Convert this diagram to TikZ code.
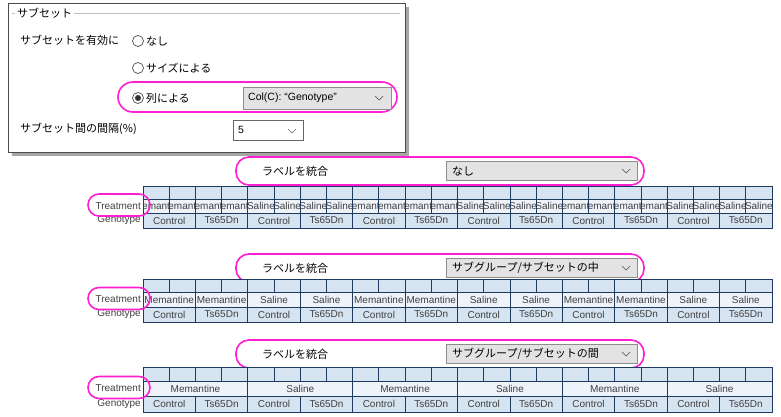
\documentclass[tikz,border=0pt]{standalone}
\usepackage{fontspec}
\setmainfont{Liberation Sans}
\newfontfamily\jp{Noto Sans CJK JP}
\usepackage{xcolor}
\usetikzlibrary{shapes,positioning}
\definecolor{cellblue}{HTML}{D6E3F0}
\definecolor{celllight}{HTML}{EEF3F9}
\definecolor{cellline}{HTML}{1F3A5F}
\definecolor{hilite}{HTML}{FF1FD0}
\definecolor{combogray}{HTML}{E3E3E3}
\tikzset{
  cell/.style={draw=cellline,line width=0.8pt},
  celltext/.style={font=\fontsize{10}{11}\selectfont,text=black!75,inner sep=0pt},
  jtext/.style={font=\jp\fontsize{11}{12}\selectfont,anchor=west,inner sep=0pt},
  combo/.style={draw=black!45,fill=combogray,line width=0.6pt},
  ring/.style={draw=hilite,line width=1.6pt,rounded corners=13pt},
  smallring/.style={draw=hilite,line width=1.6pt,rounded corners=11pt},
  radio/.style={draw=black!70,circle,minimum size=11pt,inner sep=0pt,line width=0.7pt}
}
% one row of cells: y top, height, number of cells, fill, labels
\newcommand{\cellrow}[5]{%
  \pgfmathsetmacro{\cw}{629/#3}
  \foreach \lab [count=\k from 0] in {#5} {
    \begin{scope}
      \clip (143+\k*\cw,#1) rectangle +(\cw,#2);
      \fill[#4] (143+\k*\cw,#1) rectangle +(\cw,#2);
      \node[celltext] at (143+\k*\cw+\cw/2,#1+#2/2) {\lab};
    \end{scope}
    \draw[cell] (143+\k*\cw,#1) rectangle +(\cw,#2);
  }}
\newcommand{\mergebar}[2]{%
  \draw[ring] (236,#1-14) rectangle (644,#1+14);
  \node[jtext] (#2lab) at (262,#1) {ラベルを統合};
  \draw[combo] (446,#1-9.5) rectangle (637,#1+9.5);
  \draw[black!60,line width=0.7pt] (622,#1-2) -- (626,#1+2) -- (630,#1-2);}
\begin{document}
\begin{tikzpicture}[x=1pt,y=-1pt]
\useasboundingbox (0,0) rectangle (781,417);

% Dialog
\fill[black!35] (12,7) rectangle (409,156);
\draw[black!70,fill=white,line width=0.8pt] (8,3) rectangle (405,152);
\draw[black!25] (12,13) -- (400,13);
\node[jtext,fill=white,inner xsep=2pt] (grp) at (15,13) {サブセット};
\node[jtext] (enable) at (20,40) {サブセットを有効に};
\node[radio] (r1) at (138,41) {};
\node[jtext,right=2pt of r1] (none) {なし};
\node[radio] (r2) at (138,68) {};
\node[jtext,right=2pt of r2] (bysize) {サイズによる};
\node[radio] (r3) at (138,98) {};
\fill[black!80] (r3) circle (3pt);
\node[jtext,right=2pt of r3] (bycol) {列による};
\draw[ring,rounded corners=15pt] (118,82) rectangle (397,112);
\draw[combo] (243,87) rectangle (391,109);
\node[jtext,font=\fontsize{10.5}{12}\selectfont] (col) at (248,98) {Col(C): “Genotype”};
\draw[black!60,line width=0.7pt] (375,96) -- (379,100) -- (383,96);
\node[jtext] (gap) at (20,129) {サブセット間の間隔(\%)};
\draw[black!60,fill=white,line width=0.7pt] (233,120) rectangle (303,140);
\node[jtext,font=\fontsize{10.5}{12}\selectfont] (five) at (238,130) {5};
\draw[black!60,line width=0.7pt] (288,129) -- (292,133) -- (296,129);

% Merge none
\mergebar{171}{a}
\node[jtext] (anone) at (452,171) {なし};
\cellrow{186}{13}{24}{cellblue}{,,,,,,,,,,,,,,,,,,,,,,,}
\cellrow{199}{14}{24}{celllight}{emant,emant,emant,emant,Saline,Saline,Saline,Saline,emant,emant,emant,emant,Saline,Saline,Saline,Saline,emant,emant,emant,emant,Saline,Saline,Saline,Saline}
\cellrow{213}{15}{12}{cellblue}{Control,Ts65Dn,Control,Ts65Dn,Control,Ts65Dn,Control,Ts65Dn,Control,Ts65Dn,Control,Ts65Dn}
\node[celltext,anchor=east] (treatA) at (141,206) {Treatment};
\node[celltext,anchor=east] (genoA) at (141,220.5) {Genotype};
\draw[smallring] (88,194) rectangle (150,216);

% Merge within subgroup
\mergebar{268}{b}
\node[jtext] (bin) at (452,268) {サブグループ/サブセットの中};
\cellrow{279}{13}{24}{cellblue}{,,,,,,,,,,,,,,,,,,,,,,,}
\cellrow{292}{15}{12}{celllight}{Memantine,Memantine,Saline,Saline,Memantine,Memantine,Saline,Saline,Memantine,Memantine,Saline,Saline}
\cellrow{307}{15}{12}{cellblue}{Control,Ts65Dn,Control,Ts65Dn,Control,Ts65Dn,Control,Ts65Dn,Control,Ts65Dn,Control,Ts65Dn}
\node[celltext,anchor=east] (treatB) at (141,299.5) {Treatment};
\node[celltext,anchor=east] (genoB) at (141,314.5) {Genotype};
\draw[smallring] (88,287.5) rectangle (150,309.5);

% Merge between subgroup
\mergebar{354}{c}
\node[jtext] (cbetween) at (452,354) {サブグループ/サブセットの間};
\cellrow{367}{14}{24}{cellblue}{,,,,,,,,,,,,,,,,,,,,,,,}
\cellrow{381}{15}{6}{celllight}{Memantine,Saline,Memantine,Saline,Memantine,Saline}
\cellrow{396}{16}{12}{cellblue}{Control,Ts65Dn,Control,Ts65Dn,Control,Ts65Dn,Control,Ts65Dn,Control,Ts65Dn,Control,Ts65Dn}
\node[celltext,anchor=east] (treatC) at (141,388.5) {Treatment};
\node[celltext,anchor=east] (genoC) at (141,404) {Genotype};
\draw[smallring] (88,376.5) rectangle (150,398.5);
\end{tikzpicture}
\end{document}
